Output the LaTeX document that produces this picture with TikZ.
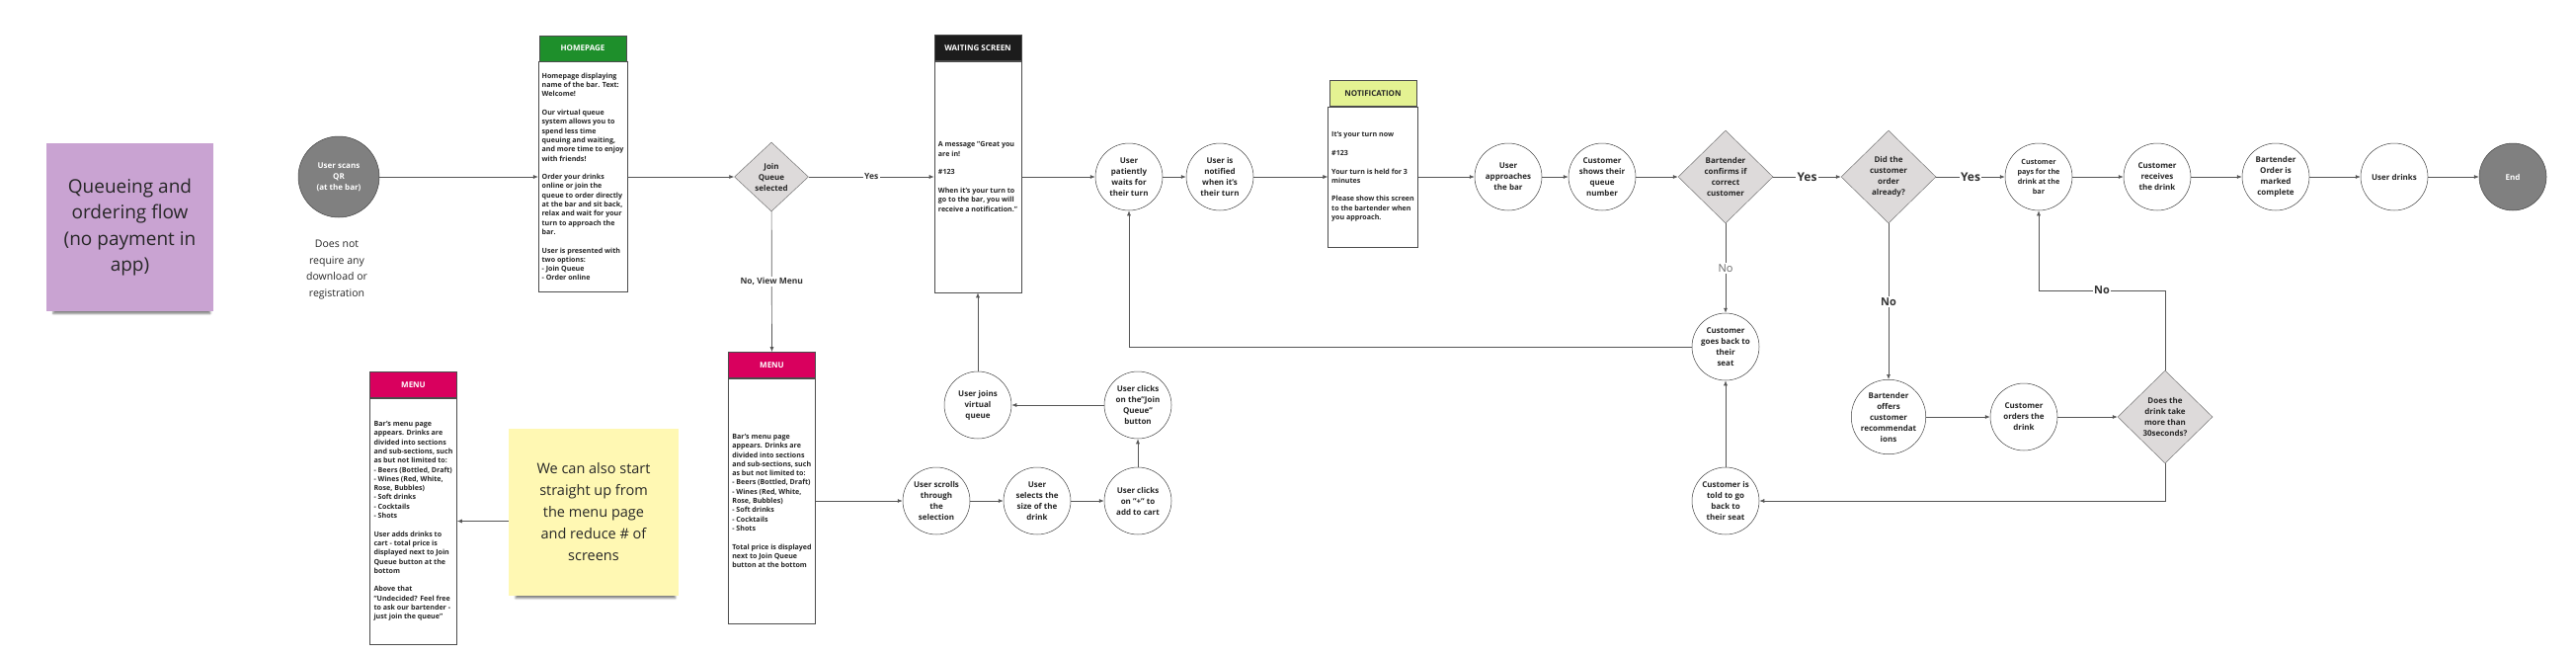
\documentclass[tikz,border=0pt]{standalone}
\usepackage{fontspec}
\setmainfont{Open Sans}
\usetikzlibrary{shapes.geometric,arrows.meta,shadows.blur}

\definecolor{linegray}{HTML}{555555}
\definecolor{endgray}{HTML}{808080}
\definecolor{choicegray}{HTML}{DDDADA}
\definecolor{homegreen}{HTML}{1E8F2B}
\definecolor{waitblack}{HTML}{1C1C1C}
\definecolor{notiflime}{HTML}{E4F292}
\definecolor{menupink}{HTML}{D9005E}
\definecolor{stickypurple}{HTML}{C9A3D2}
\definecolor{stickyyellow}{HTML}{FFF8B3}

\begin{document}
\begin{tikzpicture}[x=1pt, y=-1pt,
  stepcirc/.style={circle, draw=black!75, line width=0.5pt, fill=white, minimum size=68pt,
    inner sep=0pt, align=center, font=\fontsize{8}{11}\selectfont\bfseries, text=black!85},
  endcirc/.style={stepcirc, fill=endgray, text=white},
  choice/.style={diamond, draw=black!55, line width=0.5pt, fill=choicegray, aspect=1,
    inner sep=0pt, align=center, font=\fontsize{8}{11}\selectfont\bfseries, text=black!85},
  screenhead/.style={draw=black!70, line width=0.6pt, minimum width=88pt, minimum height=26pt,
    inner sep=0pt, anchor=south, font=\fontsize{8}{10}\selectfont\bfseries},
  screenbody/.style={draw=black!70, line width=0.6pt, fill=white, minimum width=88pt,
    inner xsep=3.5pt, align=left, font=\fontsize{7.1}{9.3}\selectfont\bfseries, text=black!85},
  sticky/.style={align=center, inner sep=0pt, text=black!85,
    blur shadow={shadow xshift=2pt, shadow yshift=-8pt, shadow scale=0.94, shadow opacity=50}},
  flow/.style={draw=linegray, line width=0.7pt, -{Latex[length=5pt, width=4pt]}},
  lbl/.style={fill=white, inner sep=1.5pt, font=\fontsize{8.5}{10}\selectfont\bfseries, text=black!80},
  biglbl/.style={lbl, font=\fontsize{12}{14}\selectfont\bfseries},
]
\useasboundingbox (0,0) rectangle (2608,662);

% title note
\node[sticky, fill=stickypurple, minimum width=169pt, minimum height=170pt,
  font=\fontsize{19}{26.5}\selectfont] (title) at (131.5,230)
  {Queueing and\\ordering flow\\(no payment in\\app)};

% start
\node[endcirc, minimum size=82pt] (scan) at (343,179) {User scans\\QR\\(at the bar)};
\node[align=center, font=\fontsize{10.5}{16.5}\selectfont, text=black!85] (noapp) at (341,273)
  {Does not\\require any\\download or\\registration};

% homepage screen
\node[screenbody, minimum height=233pt] (homebody) at (590,179) {%
Homepage displaying\\name of the bar. Text:\\Welcome!\\[9.3pt]
Our virtual queue\\system allows you to\\spend less time\\queuing and waiting,\\and more time to enjoy\\with friends!\\[9.3pt]
Order your drinks\\online or join the\\queue to order directly\\at the bar and sit back,\\relax and wait for your\\turn to approach the\\bar.\\[9.3pt]
User is presented with\\two options:\\- Join Queue\\- Order online};
\node[screenhead, fill=homegreen, text=white] (homehead) at (homebody.north) {HOMEPAGE};

\node[choice, minimum width=75pt, minimum height=70pt] (join) at (781,179) {Join\\Queue\\selected};

% waiting screen
\node[screenbody, minimum height=234pt] (waitbody) at (990,179) {%
A message "Great you\\are in!\\[9.3pt]
\#123\\[9.3pt]
When it's your turn to\\go to the bar, you will\\receive a notification."};
\node[screenhead, fill=waitblack, text=white] (waithead) at (waitbody.north) {WAITING SCREEN};

\node[stepcirc] (waits) at (1143,179) {User\\patiently\\waits for\\their turn};
\node[stepcirc] (notified) at (1235,179) {User is\\notified\\when it's\\their turn};

% notification screen
\node[screenbody, minimum height=142pt] (notifbody) at (1390,179) {%
It's your turn now\\[9.3pt]
\#123\\[9.3pt]
Your turn is held for 3\\minutes\\[9.3pt]
Please show this screen\\to the bartender when\\you approach.};
\node[screenhead, fill=notiflime, text=black!85] (notifhead) at (notifbody.north) {NOTIFICATION};

% at the bar
\node[stepcirc] (approach) at (1527,179) {User\\approaches\\the bar};
\node[stepcirc] (shows) at (1622,179) {Customer\\shows their\\queue\\number};
\node[choice, minimum width=96pt, minimum height=94pt] (confirm) at (1747,179)
  {Bartender\\confirms if\\correct\\customer};
\node[choice, minimum width=96pt, minimum height=94pt] (ordered) at (1912,179)
  {Did the\\customer\\order\\already?};
\node[stepcirc, font=\fontsize{7.2}{10}\selectfont\bfseries] (pays) at (2064,179)
  {Customer\\pays for the\\drink at the\\bar};
\node[stepcirc] (receives) at (2184,179) {Customer\\receives\\the drink};
\node[stepcirc] (complete) at (2304,179) {Bartender\\Order is\\marked\\complete};
\node[stepcirc] (drinks) at (2424,179) {User drinks};
\node[endcirc] (end) at (2544,179) {End};

% wrong customer / no order yet
\node[stepcirc] (goback) at (1747,351) {Customer\\goes back to\\their\\seat};
\node[stepcirc] (offers) at (1912,422) {Bartender\\offers\\customer\\recommendat\\ions};
\node[stepcirc] (orders) at (2049,422) {Customer\\orders the\\drink};
\node[choice, minimum width=96pt, minimum height=94pt] (longwait) at (2192,422)
  {Does the\\drink take\\more than\\30seconds?};
\node[stepcirc] (told) at (1747,507) {Customer is\\told to go\\back to\\their seat};
\coordinate (nobend) at (2192,294);

% menu screen (view menu branch)
\node[screenbody, minimum height=248pt] (menubody) at (781.5,507) {%
Bar's menu page\\appears. Drinks are\\divided into sections\\and sub-sections, such\\as but not limited to:\\- Beers (Bottled, Draft)\\- Wines (Red, White,\\Rose, Bubbles)\\- Soft drinks\\- Cocktails\\- Shots\\[9.3pt]
Total price is displayed\\next to Join Queue\\button at the bottom};
\node[screenhead, fill=menupink, text=white] (menuhead) at (menubody.north) {MENU};

\node[stepcirc] (scrolls) at (948,507) {User scrolls\\through\\the\\selection};
\node[stepcirc] (selects) at (1050,507) {User\\selects the\\size of the\\drink};
\node[stepcirc] (plus) at (1152,507) {User clicks\\on "+" to\\add to cart};
\node[stepcirc] (clickjoin) at (1152,410) {User clicks\\on the"Join\\Queue"\\button};
\node[stepcirc] (joinsq) at (990,410) {User joins\\virtual\\queue};

% alternative start from the menu
\node[screenbody, minimum height=249pt] (altbody) at (418.5,527.5) {%
Bar's menu page\\appears. Drinks are\\divided into sections\\and sub-sections, such\\as but not limited to:\\- Beers (Bottled, Draft)\\- Wines (Red, White,\\Rose, Bubbles)\\- Soft drinks\\- Cocktails\\- Shots\\[9.3pt]
User adds drinks to\\cart - total price is\\displayed next to Join\\Queue button at the\\bottom\\[9.3pt]
Above that\\"Undecided? Feel free\\to ask our bartender -\\just join the queue"};
\node[screenhead, fill=menupink, text=white] (althead) at (altbody.north) {MENU};

\node[sticky, fill=stickyyellow, minimum width=172pt, minimum height=169pt,
  font=\fontsize{14.5}{22}\selectfont] (idea) at (601,518.5)
  {We can also start\\straight up from\\the menu page\\and reduce \# of\\screens};

% main row
\draw[flow] (scan) -- (homebody);
\draw[flow] (homebody) -- (join);
\draw[flow] (join) -- node[lbl] {Yes} (waitbody);
\draw[flow] (join) -- node[lbl] {No, View Menu} (menuhead);
\draw[flow] (waitbody) -- (waits);
\draw[flow] (waits) -- (notified);
\draw[flow] (notified) -- (notifbody);
\draw[flow] (notifbody) -- (approach);
\draw[flow] (approach) -- (shows);
\draw[flow] (shows) -- (confirm);
\draw[flow] (confirm) -- node[biglbl] {Yes} (ordered);
\draw[flow] (ordered) -- node[biglbl] {Yes} (pays);
\draw[flow] (pays) -- (receives);
\draw[flow] (receives) -- (complete);
\draw[flow] (complete) -- (drinks);
\draw[flow] (drinks) -- (end);

% loops back
\draw[flow] (confirm) -- node[lbl, font=\fontsize{11}{13}\selectfont, text=black!60] {No} (goback);
\draw[flow] (goback.west) -| (waits.south);
\draw[flow] (ordered) -- node[biglbl, font=\fontsize{11}{13}\selectfont\bfseries] {No} (offers);
\draw[flow] (offers) -- (orders);
\draw[flow] (orders) -- (longwait);
\draw[flow] (longwait.north) -- (nobend) -| node[pos=0.25, biglbl, font=\fontsize{11}{13}\selectfont\bfseries] {No} (pays.south);
\draw[flow] (longwait.south) |- (told.east);
\draw[flow] (told) -- (goback);

% menu branch
\draw[flow] (menubody) -- (scrolls);
\draw[flow] (scrolls) -- (selects);
\draw[flow] (selects) -- (plus);
\draw[flow] (plus) -- (clickjoin);
\draw[flow] (clickjoin) -- (joinsq);
\draw[flow] (joinsq) -- (waitbody);
\draw[flow] (idea.west |- altbody.east) -- (altbody.east);

\end{tikzpicture}
\end{document}
